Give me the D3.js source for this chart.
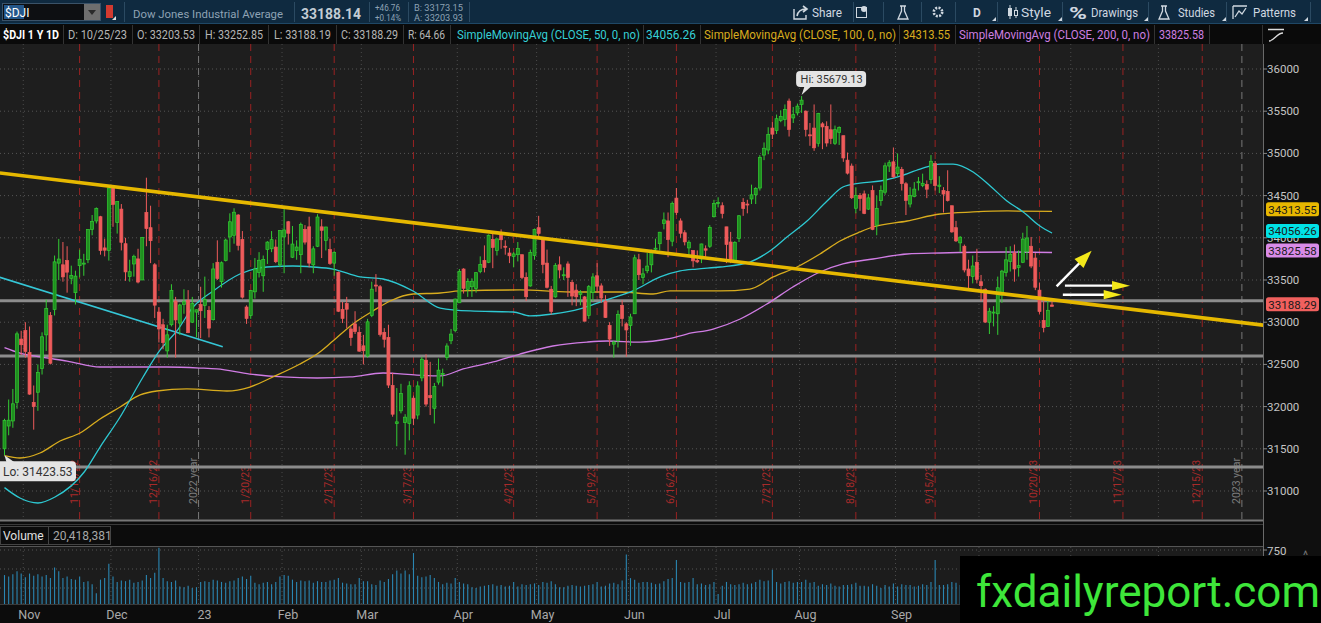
<!DOCTYPE html>
<html><head><meta charset="utf-8">
<script src="https://cdn.jsdelivr.net/npm/d3@7"></script>
<style>html,body{margin:0;padding:0;background:#000;overflow:hidden}svg{display:block}text{font-family:Roboto,"Open Sans",sans-serif}</style>
</head><body><svg id="c" width="1321" height="623"></svg>
<script>
// ---------------- DATA ----------------
const symbol = "$DJI";
const symbolName = "Dow Jones Industrial Average";
const lastDate = "10/25/23";
const headerPrice = "33188.14", headerChg = "+46.76", headerPct = "+0.14%";
const bidAsk = ["B: 33173.15", "A: 33203.93"];
const volumeNow = "20,418,381";
// daily candles [open, high, low, close], 10/25/22 .. 10/25/23
const ohlc = [
// Oct 22
[31500,31856,31423.53,31837],[31770,32084,31660,31839],[31830,32209,31749,32033],[32050,32889,31975,32862],[32800,32898,32612,32733],
// Nov 22
[32900,33000,32580,32653],[32640,32949,32140,32148],[32050,32250,31727,32001],[32170,32500,31950,32403],[32450,32880,32380,32827],
[32850,33270,32660,33161],[33080,33120,32500,32514],[33150,33790,33080,33715],[33700,33987,33500,33748],[33680,33950,33480,33537],
[33730,33900,33350,33593],[33520,33670,33450,33554],[33350,33610,33210,33546],[33670,33860,33530,33746],[33700,33810,33550,33700],
[33740,34100,33700,34098],[34100,34270,34030,34194],[34200,34360,34170,34347],[34250,34260,33800,33849],[33880,33990,33780,33853],
[33850,34590,33730,34590],
// Dec 22
[34600,34600,34130,34395],[34180,34430,34050,34430],[34340,34400,33850,33947],[33930,34000,33490,33596],[33540,33740,33480,33598],
[33690,33800,33540,33781],[33750,33870,33460,33476],[33500,34010,33500,34005],[34300,34712,33900,34109],[34120,34380,33700,33966],
[33680,33700,33050,33202],[33120,33180,32760,32920],[32970,33040,32680,32758],[32660,32970,32580,32850],[32970,33450,32950,33376],
[33250,33300,32580,33027],[32990,33220,32850,33204],[33210,33390,33100,33242],[33260,33380,32870,32876],[33000,33300,32990,33221],
[33120,33150,32820,33147],
// Jan 23
[33210,33420,32810,33136],[33200,33540,33050,33270],[33140,33190,32820,32930],[33030,33700,33020,33631],[33710,33970,33500,33518],
[33480,33720,33410,33704],[33730,33990,33720,33973],[34010,34290,33830,34190],[34030,34350,33930,34303],[34270,34280,33850,33911],
[33980,34080,33280,33297],[33180,33200,32980,33045],[33080,33380,33040,33375],[33360,33760,33280,33630],[33590,33830,33530,33734],
[33550,33790,33360,33744],[33860,33960,33690,33949],[33870,34080,33830,33978],[33890,33980,33700,33717],[33680,34090,33650,34086],
// Feb 23
[34010,34340,33580,34093],[34190,34200,33920,34054],[33770,34140,33760,33926],[33850,33970,33740,33891],[33800,34180,33580,34157],
[34100,34150,33920,33949],[34130,34250,33650,33700],[33680,33900,33580,33869],[33900,34280,33890,34246],[34130,34220,33760,34089],
[33970,34130,33850,34128],[33860,33990,33680,33697],[33700,33840,33550,33827],[33590,33600,33120,33130],[33150,33240,32990,33045],
[33220,33300,32930,33154],[32920,32950,32720,32817],[32980,33130,32860,32889],[32880,32950,32650,32657],
// Mar 23
[32720,32850,32500,32662],[32600,33040,32580,33004],[33080,33480,33060,33391],[33440,33570,33360,33431],[33420,33440,32830,32856],
[32880,32930,32700,32798],[32820,32970,32220,32255],[32250,32400,31880,31910],[31800,32220,31530,31819],[31950,32270,31920,32155],
[31810,31910,31430,31875],[31800,32300,31600,32247],[32100,32130,31780,31862],[31900,32300,31850,32245],[32340,32590,32300,32561],
[32550,32620,32000,32030],[32130,32530,31900,32105],[31980,32280,31800,32238],[32290,32570,32260,32432],[32380,32450,32240,32394],
[32580,32750,32550,32718],[32780,32920,32740,32859],[32900,33280,32880,33274],
// Apr 23
[33230,33630,33230,33601],[33630,33640,33340,33402],[33390,33520,33300,33483],[33420,33520,33300,33485],[33400,33590,33350,33587],
[33600,33780,33580,33685],[33730,33910,33590,33647],[33710,34040,33700,34030],[33980,34060,33640,33886],[33850,33990,33790,33987],
[34060,34100,33870,33977],[33900,33970,33800,33897],[33820,33880,33700,33787],[33780,33830,33650,33809],[33800,33950,33720,33875],
[33800,33800,33510,33531],[33530,33590,33250,33302],[33430,33860,33420,33826],[33790,34110,33740,34098],
// May 23
[34120,34260,34000,34052],[33980,34000,33580,33685],[33700,33860,33400,33414],[33390,33430,33090,33128],[33300,33700,33290,33674],
[33680,33780,33520,33619],[33560,33650,33500,33562],[33690,33720,33300,33531],[33470,33500,33200,33310],[33380,33450,33190,33301],
[33330,33380,33200,33349],[33300,33310,33010,33012],[33080,33440,33040,33421],[33350,33580,33250,33536],[33550,33700,33350,33427],
[33430,33460,33230,33287],[33250,33320,33050,33056],[32960,33000,32720,32800],[32740,32780,32580,32765],[32780,33140,32700,33093],
[33200,33260,32950,33043],[32980,33000,32590,32908],
// Jun 23
[32960,33100,32720,33062],[33100,33800,33100,33763],[33740,33810,33500,33563],[33530,33640,33450,33573],[33610,33820,33580,33665],
[33680,33860,33590,33834],[33870,33990,33830,33877],[33930,34070,33850,34066],[34170,34300,34100,34212],[34200,34300,33770,33979],
[33960,34430,33900,34408],[34470,34590,34270,34299],[34200,34230,34000,34054],[34060,34090,33910,33952],[33880,33970,33780,33947],
[33850,33850,33650,33727],[33730,33850,33700,33715],[33750,33930,33700,33927],[33870,33910,33750,33853],[33900,34150,33880,34122],
[34250,34450,34240,34408],
// Jul 23
[34410,34480,34360,34418],[34380,34420,34230,34289],[34130,34130,33700,33922],[33950,34070,33700,33735],[33710,33960,33700,33944],
[33990,34270,33950,34261],[34420,34470,34260,34347],[34400,34450,34290,34395],[34460,34630,34400,34509],[34510,34600,34400,34585],
[34590,34980,34560,34952],[34980,35130,34920,35061],[35040,35310,34990,35225],[35300,35370,35170,35228],[35270,35460,35230,35411],
[35390,35510,35370,35438],[35400,35580,35320,35520],[35620,35650,35200,35283],[35420,35550,35360,35459],[35480,35590,35450,35560],
// Aug 23
[35580,35679.13,35480,35631],[35500,35510,35200,35283],[35220,35360,35090,35216],[35300,35580,35030,35066],[35120,35480,35080,35473],
[35350,35370,35050,35314],[35320,35380,35080,35123],[35280,35580,35110,35176],[35120,35330,35100,35281],[35250,35320,35100,35308],
[35210,35210,34900,34946],[34920,35010,34750,34766],[34850,34880,34460,34475],[34350,34600,34290,34501],[34500,34530,34320,34464],
[34520,34560,34280,34289],[34340,34520,34330,34473],[34560,34620,34090,34099],[34150,34500,34030,34347],[34440,34620,34380,34560],
[34540,34890,34510,34853],[34850,34920,34780,34890],[34900,35070,34710,34722],
// Sep 23
[34760,35000,34730,34838],[34810,34840,34560,34642],[34640,34660,34270,34443],[34400,34600,34360,34501],[34490,34660,34480,34577],
[34660,34720,34560,34664],[34620,34760,34600,34646],[34630,34680,34470,34576],[34690,34980,34640,34907],[34880,34910,34560,34618],
[34610,34730,34530,34624],[34560,34600,34300,34518],[34550,34800,34430,34441],[34380,34380,34060,34070],[34120,34200,33950,33964],
[33940,34020,33830,34007],[33900,33920,33590,33619],[33630,33740,33400,33550],[33540,33790,33460,33666],[33710,33870,33460,33508],
// Oct 23
[33480,33560,33250,33433],[33390,33400,32990,33002],[33000,33170,32860,33130],[33120,33190,32950,33120],[33100,33540,32850,33408],
[33320,33620,33230,33605],[33590,33890,33540,33739],[33720,33900,33600,33805],[33820,33920,33480,33631],[33650,33850,33540,33670],
[33710,34060,33700,33985],[33840,34140,33740,33998],[33900,34010,33640,33665],[33760,33820,33380,33414],[33380,33470,33100,33127],
[33020,33300,32880,32936],[32950,33270,32950,33141],[33203.53,33252.85,33188.19,33188.29]
];
// daily volume, millions
const volume = [
420,400,430,470,440,
390,440,410,430,400,420,380,520,470,380,400,370,360,400,330,340,300,180,360,380,570,
400,330,350,340,360,320,330,350,420,380,450,780,380,340,330,350,270,260,280,250,260,
330,340,330,360,350,330,320,340,350,380,400,370,410,320,300,320,330,300,330,400,
420,410,360,330,350,340,350,320,340,330,330,350,360,380,320,310,300,300,380,
340,340,300,290,350,330,370,430,480,440,480,430,710,410,390,400,420,380,330,300,320,310,380,
330,310,300,260,250,270,280,290,300,280,290,270,280,330,270,300,290,300,310,
290,330,320,340,300,260,260,280,290,280,270,280,290,300,330,270,280,310,320,300,350,690,
380,360,320,330,330,320,300,310,340,370,380,620,330,320,330,380,300,310,290,300,330,
170,280,330,300,290,300,320,300,310,330,360,340,350,490,330,310,330,340,320,330,
330,360,320,330,280,300,290,310,280,270,290,290,300,320,280,280,270,300,280,250,290,270,310,
270,300,290,290,270,280,300,290,330,620,290,290,300,330,320,290,330,340,300,340,
330,370,320,290,310,300,310,290,300,300,310,300,330,340,380,320,310,20.418381
];
// moving averages: [bar index, price]
const sma50 = [[0,31040],[3.7,30917],[8,30858],[12.1,30929],[19.1,31225],[22.9,31521],[27.7,31877],[33.2,32351],[37.3,32671],[41.3,32896],[45.2,33180],[50,33370],[56.4,33571],[62.9,33654],[69.1,33666],[73.9,33654],[78.7,33630],[85.2,33536],[90.7,33512],[97.9,33370],[104.4,33168],[111.6,33133],[121.9,33121],[125.9,33074],[131.4,33097],[137.9,33157],[143.4,33251],[150.6,33370],[157.1,33536],[161.9,33607],[165.9,33630],[171.5,33654],[178.6,33713],[183.4,33844],[187.5,34010],[192.3,34199],[197.1,34436],[200.9,34602],[205,34649],[209.8,34673],[214.6,34732],[219.4,34815],[224.2,34874],[227.3,34874],[232.1,34780],[236.2,34614],[240.2,34436],[244.1,34306],[248.1,34140],[251,34056.26]];
const sma100 = [[0,31420],[3.7,31391],[8.5,31450],[13.3,31592],[18.1,31687],[22.9,31853],[27.7,31995],[32.5,32138],[36.5,32185],[43.7,32209],[53.3,32185],[58.8,32232],[64.3,32351],[70.8,32505],[74.9,32623],[78.7,32777],[83.5,32979],[88.3,33133],[92.4,33251],[97.9,33334],[104.4,33346],[109.1,33370],[123.5,33382],[135.5,33358],[147.5,33358],[155.4,33334],[159.5,33370],[171.5,33370],[178.6,33393],[184.2,33536],[189.9,33654],[195.4,33808],[200.2,33962],[205,34069],[208.1,34128],[216.3,34199],[224.2,34282],[232.1,34306],[240.2,34318],[251,34313.55]];
const sma200 = [[0,32700],[3.7,32635],[8.5,32588],[15,32540],[22.9,32469],[30.8,32469],[38.9,32469],[46.8,32457],[50.9,32446],[58.8,32386],[66.7,32351],[74.9,32339],[82.8,32351],[90.7,32398],[98.8,32374],[104.4,32363],[109.9,32446],[117.1,32529],[123.5,32623],[131.4,32718],[139.6,32765],[144.4,32777],[152.3,32765],[158.8,32801],[163.5,32860],[169.8,32919],[176.3,33038],[182.7,33216],[188.9,33417],[195.4,33595],[200.9,33690],[208.1,33749],[216.3,33808],[224.2,33820],[240.2,33832],[251,33825.58]];
const smaNames = ["SimpleMovingAvg (CLOSE, 50, 0, no)","SimpleMovingAvg (CLOSE, 100, 0, no)","SimpleMovingAvg (CLOSE, 200, 0, no)"];
// axis ticks
const priceTicks = [31000,31500,32000,32500,33000,33500,34000,34500,35000,35500,36000];
const volumeTicks = [250,500,750];
const volumeTickLabels = [750];
const monthLabels = ["Nov","Dec","23","Feb","Mar","Apr","May","Jun","Jul","Aug","Sep","Oct","Nov","Dec"];
const monthStartIdx = [5,26,47,67,86,109,128,150,171,191,214,234,256,277];
const expLabels = ["11/18/22","12/16/22","1/20/23","2/17/23","3/17/23","4/21/23","5/19/23","6/16/23","7/21/23","8/18/23","9/15/23","10/20/23","11/17/23","12/15/23"];
const expIdx = [18,37,59,79,98,122,142,161,184,204,223,248,268,287];
const yearLabels = ["2022 year","2023 year"];
const yearIdx = [46.5,296.5];
// drawings: horizontal levels, trend lines, arrows ([bar index, price])
const levels = [33255,32600,31285];
const trendMain = [[-1.1,34768],[301.6,32965]];
const trendCyan = [[-1.1,33532],[52.3,32710]];
const arrows = [[[252.1,33425],[260.5,33847]],[[254.1,33433],[269.7,33433]],[[253.6,33326],[267.7,33326]]];

// ---------------- LAYOUT ----------------
const svg = d3.select("#c");
const PR = 1263, PT = 44, PB = 520, VT = 547, VB = 604;
const WM = { x: 960, y: 556 }; // watermark box corner
const x = d3.scaleLinear().domain([0, ohlc.length - 1]).range([4.5, 1052]);
const y = d3.scaleLinear().domain([31000, 36000]).range([491, 69]);
const yv = d3.scaleLinear().domain([0, 750]).range([607, 550]);
const fmt2 = d3.format(".2f");

function T(p, s, tx, ty, o = {}) {
  const t = p.append("text").attr("x", tx).attr("y", ty).text(s)
    .attr("font-size", o.size || 12).attr("fill", o.fill || "#bbb");
  if (o.weight) t.attr("font-weight", o.weight);
  if (o.anchor) t.attr("text-anchor", o.anchor);
  if (o.len) t.attr("textLength", o.len).attr("lengthAdjust", "spacingAndGlyphs");
  if (o.family) t.attr("font-family", o.family);
  return t;
}

const defs = svg.append("defs");
defs.append("clipPath").attr("id", "pc").append("rect").attr("x", 0).attr("y", PT).attr("width", PR).attr("height", PB - PT);
defs.append("clipPath").attr("id", "vc").append("rect").attr("x", 0).attr("y", VT).attr("width", PR).attr("height", VB - VT);

// backgrounds
svg.append("rect").attr("width", 1321).attr("height", 623).attr("fill", "#0c0c0c");
svg.append("rect").attr("x", 0).attr("y", PT).attr("width", PR).attr("height", PB - PT).attr("fill", "#1e1e1e");
svg.append("rect").attr("x", PR).attr("y", PT).attr("width", 1321 - PR).attr("height", 623 - PT).attr("fill", "#0f0f0f");
svg.append("rect").attr("x", 0).attr("y", VT).attr("width", PR).attr("height", VB - VT).attr("fill", "#1c1c1c");

// ---------- price pane ----------
const pg = svg.append("g").attr("clip-path", "url(#pc)");
pg.selectAll(".hg").data(priceTicks).join("line")
  .attr("x1", 0).attr("x2", PR).attr("y1", d => y(d)).attr("y2", d => y(d))
  .attr("stroke", "#555").attr("stroke-dasharray", "1,3");
pg.selectAll(".mg").data(monthStartIdx).join("line")
  .attr("x1", d => x(d - 0.5)).attr("x2", d => x(d - 0.5)).attr("y1", PT).attr("y2", PB)
  .attr("stroke", "#4a4a4a").attr("stroke-dasharray", "1,3");
pg.selectAll(".ex").data(expIdx).join("line")
  .attr("x1", d => x(d)).attr("x2", d => x(d)).attr("y1", PT).attr("y2", PB)
  .attr("stroke", "#9a2222").attr("stroke-dasharray", "7,5");
pg.selectAll(".yr").data(yearIdx).join("line")
  .attr("x1", d => x(d)).attr("x2", d => x(d)).attr("y1", PT).attr("y2", PB)
  .attr("stroke", "#777").attr("stroke-dasharray", "7,5");
// rotated date labels
expIdx.forEach((d, i) => {
  T(pg, expLabels[i], 0, 0, { size: 10.5, fill: "#a82a2a" })
    .attr("transform", `translate(${x(d) - 2},504) rotate(-90)`);
});
yearIdx.forEach((d, i) => {
  T(pg, yearLabels[i], 0, 0, { size: 10.5, fill: "#7c7c7c" })
    .attr("transform", `translate(${x(d) - 2},504) rotate(-90)`);
});
// horizontal levels
pg.selectAll(".lv").data(levels).join("line")
  .attr("x1", 0).attr("x2", PR).attr("y1", d => y(d)).attr("y2", d => y(d))
  .attr("stroke", "#8c8c8c").attr("stroke-width", 3);
// moving averages
const ln = d3.line().x(d => x(d[0])).y(d => y(d[1])).curve(d3.curveMonotoneX);
pg.append("path").attr("d", ln(sma200)).attr("fill", "none").attr("stroke", "#d07ce4").attr("stroke-width", 1.3);
pg.append("path").attr("d", ln(sma100)).attr("fill", "none").attr("stroke", "#d8ac1e").attr("stroke-width", 1.3);
pg.append("path").attr("d", ln(sma50)).attr("fill", "none").attr("stroke", "#2ec9d2").attr("stroke-width", 1.3);
// trend lines
const sl = d3.line().x(d => x(d[0])).y(d => y(d[1]));
pg.append("path").attr("d", sl(trendCyan)).attr("stroke", "#35c6d6").attr("stroke-width", 1.6).attr("fill", "none");
// candles
const cg = pg.append("g");
ohlc.forEach((d, i) => {
  const [o, h, l, c] = d, up = c >= o;
  const col = up ? "#33cc33" : "#ee5b5b";
  cg.append("line").attr("x1", x(i)).attr("x2", x(i)).attr("y1", y(h)).attr("y2", y(l)).attr("stroke", col).attr("stroke-width", 1);
  const top = y(Math.max(o, c)), bot = y(Math.min(o, c));
  cg.append("rect").attr("x", x(i) - 1.5).attr("width", 3).attr("y", top).attr("height", Math.max(1, bot - top))
    .attr("fill", up ? "#1f8f1f" : "#ee5b5b").attr("stroke", col).attr("stroke-width", 0.7);
});
pg.append("path").attr("d", sl(trendMain)).attr("stroke", "#e6b800").attr("stroke-width", 3.6).attr("fill", "none");
// arrows
arrows.forEach(a => {
  const sx = x(a[0][0]), sy = y(a[0][1]), tx = x(a[1][0]), ty = y(a[1][1]);
  const dx = tx - sx, dy = ty - sy, L = Math.hypot(dx, dy), ux = dx / L, uy = dy / L;
  const hl = 18, hw = Math.abs(uy) > 0.3 ? 6.3 : 4.6;
  const bx = tx - ux * hl, by = ty - uy * hl;
  pg.append("line").attr("x1", sx).attr("y1", sy).attr("x2", bx + ux * 2).attr("y2", by + uy * 2)
    .attr("stroke", "#fff").attr("stroke-width", 2.4);
  pg.append("path").attr("d", `M${tx},${ty}L${bx - uy * hw},${by + ux * hw}L${bx + uy * hw},${by - ux * hw}Z`)
    .attr("fill", "#f3e81a");
});
// Hi / Lo bubbles
const hiI = d3.maxIndex(ohlc, d => d[1]), loI = d3.minIndex(ohlc, d => d[2]);
{
  const hx = x(hiI), hy = y(ohlc[hiI][1]);
  pg.append("path").attr("d", `M${hx + 3},${hy - 10}L${hx},${hy - 1}L${hx + 10},${hy - 10}Z`).attr("fill", "#e4e4e4");
  pg.append("rect").attr("x", hx - 5.5).attr("y", hy - 25).attr("width", 70).attr("height", 16).attr("rx", 4).attr("fill", "#e4e4e4");
  T(pg, "Hi: " + fmt2(ohlc[hiI][1]), hx - 1, hy - 13, { size: 11, fill: "#333" });
  const lx = x(loI), ly = y(ohlc[loI][2]);
  pg.append("path").attr("d", `M${lx + 2},${ly + 7}L${lx},${ly}L${lx + 10},${ly + 7}Z`).attr("fill", "#e4e4e4");
  pg.append("rect").attr("x", -4).attr("y", ly + 6).attr("width", 80).attr("height", 20).attr("rx", 4).attr("fill", "#e4e4e4");
  T(pg, "Lo: " + fmt2(ohlc[loI][2]), 3, ly + 20.5, { size: 12, fill: "#333" });
}
// separator under price pane
svg.append("line").attr("x1", 0).attr("x2", PR).attr("y1", PB + 0.5).attr("y2", PB + 0.5).attr("stroke", "#777").attr("stroke-width", 2);
svg.append("rect").attr("x", 0).attr("y", PB + 2).attr("width", PR).attr("height", VT - PB - 2).attr("fill", "#0c0c0c");
svg.append("line").attr("x1", 0).attr("x2", PR).attr("y1", 524.5).attr("y2", 524.5).attr("stroke", "#3a3a3a");
svg.append("line").attr("x1", 0).attr("x2", PR).attr("y1", VT - 0.5).attr("y2", VT - 0.5).attr("stroke", "#555");
svg.append("rect").attr("x", 0.5).attr("y", 526.5).attr("width", 48).attr("height", 18).attr("fill", "none").attr("stroke", "#444");
svg.append("rect").attr("x", 48.5).attr("y", 526.5).attr("width", 62).attr("height", 18).attr("fill", "none").attr("stroke", "#444");
T(svg, "Volume", 3, 540, { size: 12, fill: "#e0e0e0" });
T(svg, volumeNow, 53, 540, { size: 12, fill: "#a8a8a8" });

// ---------- volume pane ----------
const vg = svg.append("g").attr("clip-path", "url(#vc)");
vg.selectAll(".vh").data(volumeTicks).join("line")
  .attr("x1", 0).attr("x2", PR).attr("y1", d => yv(d)).attr("y2", d => yv(d))
  .attr("stroke", "#555").attr("stroke-dasharray", "1,3");
vg.selectAll(".vm").data(monthStartIdx).join("line")
  .attr("x1", d => x(d - 0.5)).attr("x2", d => x(d - 0.5)).attr("y1", VT).attr("y2", VB)
  .attr("stroke", "#4a4a4a").attr("stroke-dasharray", "1,3");
vg.selectAll(".vb").data(volume).join("line")
  .attr("x1", (d, i) => x(i)).attr("x2", (d, i) => x(i)).attr("y1", VB).attr("y2", d => yv(d))
  .attr("stroke", "#2a86b2").attr("stroke-width", 1.1);
svg.append("line").attr("x1", 0).attr("x2", PR).attr("y1", VB + 0.5).attr("y2", VB + 0.5).attr("stroke", "#3a3a3a");

// month labels (those under the watermark box are hidden in the reference)
monthStartIdx.forEach((d, i) => {
  const mx = x(d - 0.5) + 6;
  if (mx < WM.x - 12) T(svg, monthLabels[i], mx, 619, { size: 12.5, fill: "#a9a9a9", anchor: "middle" });
});

// ---------- right axis ----------
svg.append("line").attr("x1", PR + 0.5).attr("x2", PR + 0.5).attr("y1", PT).attr("y2", VB).attr("stroke", "#6a6a6a");
priceTicks.forEach(t => {
  svg.append("line").attr("x1", PR).attr("x2", PR + 4).attr("y1", y(t)).attr("y2", y(t)).attr("stroke", "#888");
  T(svg, String(t), PR + 4, y(t) + 4, { size: 11.5, fill: "#c4c4c4" });
});
volumeTickLabels.forEach(t => {
  svg.append("line").attr("x1", PR).attr("x2", PR + 4).attr("y1", yv(t)).attr("y2", yv(t)).attr("stroke", "#888");
  T(svg, String(t), PR + 4, yv(t) + 5, { size: 11.5, fill: "#c4c4c4" });
});
T(svg, "^", 1303, 560, { size: 12, fill: "#777" });
const lastClose = ohlc[ohlc.length - 1][3];
const boxes = [[sma100[sma100.length - 1][1], "#e8b800"], [sma50[sma50.length - 1][1], "#00e2e6"], [sma200[sma200.length - 1][1], "#d98be8"], [lastClose, "#f0605e"]];
boxes.forEach(([v, col]) => {
  const cy = y(v) - 2;
  svg.append("rect").attr("x", PR + 3).attr("y", cy - 7).attr("width", 53).attr("height", 14).attr("rx", 2.5).attr("fill", col);
  T(svg, fmt2(v), PR + 29.5, cy + 4.2, { size: 11.5, fill: "#1a1a1a", anchor: "middle" });
});

// ---------- header row 1 ----------
const h1 = svg.append("g");
h1.append("rect").attr("width", 1321).attr("height", 24).attr("fill", "#0f2a40");
h1.append("line").attr("x1", 0).attr("x2", 1321).attr("y1", 23.5).attr("y2", 23.5).attr("stroke", "#1f4765");
h1.append("rect").attr("x", 2.5).attr("y", 3.5).attr("width", 98).attr("height", 17).attr("fill", "#0d0f12").attr("stroke", "#3a5268");
h1.append("rect").attr("x", 4).attr("y", 5).attr("width", 20).attr("height", 14).attr("fill", "#24578a");
T(h1, symbol, 5, 17, { size: 12, fill: "#fff" });
h1.append("rect").attr("x", 84).attr("y", 4).attr("width", 16).attr("height", 16).attr("fill", "#6e6e6e");
h1.append("path").attr("d", "M88,10L96,10L92,15Z").attr("fill", "#2a2a2a");
h1.append("rect").attr("x", 106).attr("y", 5).attr("width", 7).attr("height", 13).attr("fill", "#d33a30");
h1.append("path").attr("d", "M112,20L116,20L116,16Z").attr("fill", "#ddd");
[124, 294, 369, 408, 469, 853, 883, 921, 955, 997, 1062, 1148, 1226, 1310].forEach(sx =>
  h1.append("line").attr("x1", sx + 0.5).attr("x2", sx + 0.5).attr("y1", 2).attr("y2", 22).attr("stroke", "#2b4a62"));
T(h1, symbolName, 133, 18, { size: 11.8, fill: "#8ea2b4", len: 150 });
T(h1, headerPrice, 301, 19, { size: 15.5, fill: "#c3ccd4", weight: "bold", len: 60 });
T(h1, headerChg, 375, 11, { size: 9, fill: "#8ea2b4", len: 25 });
T(h1, headerPct, 375, 21, { size: 9, fill: "#8ea2b4", len: 26 });
T(h1, bidAsk[0], 414, 11, { size: 9, fill: "#8ea2b4", len: 49 });
T(h1, bidAsk[1], 414, 21, { size: 9, fill: "#8ea2b4", len: 49 });
const ic = "#d0d8e0";
// share icon
h1.append("path").attr("d", "M794,9V19H806V15").attr("fill", "none").attr("stroke", ic).attr("stroke-width", 1.4);
h1.append("path").attr("d", "M797,16C798,11 801,9 806,9M803,6L807,9L803,12").attr("fill", "none").attr("stroke", ic).attr("stroke-width", 1.6);
T(h1, "Share", 812, 17, { size: 13, fill: ic, len: 30 });
h1.append("rect").attr("x", 856.5).attr("y", 7.5).attr("width", 10).attr("height", 10).attr("fill", "none").attr("stroke", ic);
h1.append("circle").attr("cx", 864).attr("cy", 9).attr("r", 3).attr("fill", ic);
const flask = (fx) => h1.append("path").attr("d", `M${fx + 2},6H${fx + 8}M${fx + 3.5},6V11L${fx},19H${fx + 10}L${fx + 6.5},11V6`).attr("fill", "none").attr("stroke", ic).attr("stroke-width", 1.3);
flask(898);
h1.append("circle").attr("cx", 938).attr("cy", 12).attr("r", 4.2).attr("fill", "none").attr("stroke", ic).attr("stroke-width", 2.6).attr("stroke-dasharray", "2,1.3");
h1.append("circle").attr("cx", 938).attr("cy", 12).attr("r", 1.5).attr("fill", "#0f2a40");
T(h1, "D", 973, 17, { size: 12, fill: ic, weight: "bold" });
[992, 1058, 1144, 1222, 1304].forEach(tx => h1.append("path").attr("d", `M${tx},21H${tx + 4}V17Z`).attr("fill", ic));
h1.append("line").attr("x1", 1010).attr("x2", 1010).attr("y1", 5).attr("y2", 19).attr("stroke", ic);
h1.append("rect").attr("x", 1008).attr("y", 8).attr("width", 4).attr("height", 8).attr("fill", ic);
h1.append("line").attr("x1", 1016).attr("x2", 1016).attr("y1", 7).attr("y2", 18).attr("stroke", ic);
h1.append("rect").attr("x", 1014.5).attr("y", 10.5).attr("width", 3).attr("height", 5).attr("fill", "#0f2a40").attr("stroke", ic);
T(h1, "Style", 1021, 17, { size: 13, fill: ic, len: 30 });
T(h1, "%", 1069, 19, { size: 17, fill: ic, weight: "bold", len: 18 });
T(h1, "Drawings", 1091, 17, { size: 13, fill: ic, len: 47 });
flask(1159);
T(h1, "Studies", 1178, 17, { size: 13, fill: ic, len: 37 });
h1.append("path").attr("d", "M1233,6H1247M1233,6V19M1235,17L1239,11L1242,14L1246,8").attr("fill", "none").attr("stroke", ic).attr("stroke-width", 1.3);
T(h1, "Patterns", 1253, 17, { size: 13, fill: ic, len: 43 });

// ---------- header row 2 ----------
const h2 = svg.append("g");
h2.append("rect").attr("y", 24).attr("width", 1321).attr("height", 20).attr("fill", "#0a0a0a");
const last = ohlc[ohlc.length - 1];
const info = [
  [symbol + " 1 Y 1D", 3, 59, "#ffffff", "bold"],
  ["D: " + lastDate, 68, 127, "#b5b5b5"],
  ["O: " + fmt2(last[0]), 137, 195, "#b5b5b5"],
  ["H: " + fmt2(last[1]), 205, 263, "#b5b5b5"],
  ["L: " + fmt2(last[2]), 274, 331, "#b5b5b5"],
  ["C: " + fmt2(last[3]), 341, 398, "#b5b5b5"],
  ["R: " + fmt2(last[1] - last[2]), 408, 445, "#b5b5b5"],
  [smaNames[0], 457, 640, "#36d0d6"],
  [fmt2(sma50[sma50.length - 1][1]), 646, 696, "#36d0d6"],
  [smaNames[1], 704, 896, "#d8ac1e"],
  [fmt2(sma100[sma100.length - 1][1]), 903, 950, "#d8ac1e"],
  [smaNames[2], 959, 1150, "#cd7fe0"],
  [fmt2(sma200[sma200.length - 1][1]), 1159, 1204, "#cd7fe0"]
];
info.forEach(([s, a, b, col, w]) => T(h2, s, a, 39, { size: 12, fill: col, weight: w, len: b - a }));
[63, 132, 199, 268, 336, 403, 450, 643, 700, 899, 955, 1154, 1209, 1262].forEach(sx =>
  h2.append("line").attr("x1", sx + 0.5).attr("x2", sx + 0.5).attr("y1", 25).attr("y2", 44).attr("stroke", "#333"));
h2.append("path").attr("d", "M1268,29.5H1284M1269,41C1274,41 1277,33 1283,33").attr("fill", "none").attr("stroke", "#ddd").attr("stroke-width", 1.3);

// ---------- watermark ----------
svg.append("rect").attr("x", WM.x).attr("y", WM.y).attr("width", 1321 - WM.x).attr("height", 623 - WM.y).attr("fill", "#000");
T(svg, "fxdailyreport.com", 976, 607, { size: 44, fill: "#3ee63a", family: "'Liberation Sans',Arial,sans-serif" });
</script></body></html>
